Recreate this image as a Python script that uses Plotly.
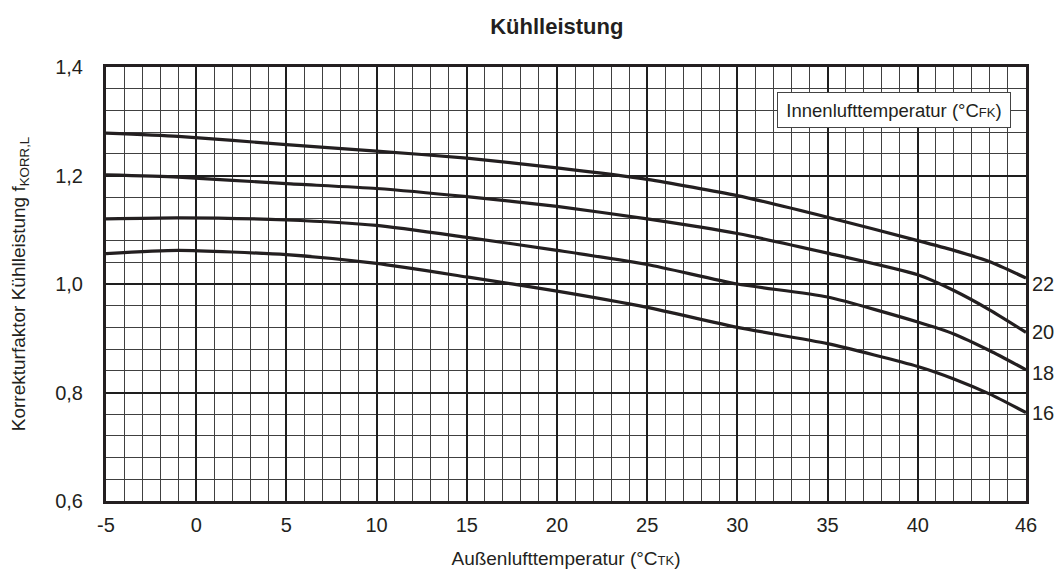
import plotly.graph_objects as go

# Outdoor air temperature (°C dry bulb) sample points
aussen_temp = [-5, -1, 5, 10, 15, 20, 25, 30, 35, 40, 42, 44, 46]

# Cooling capacity correction factor per indoor air temperature (°C wet bulb)
faktor_22 = [1.278, 1.272, 1.257, 1.245, 1.232, 1.214, 1.193, 1.163, 1.123, 1.080, 1.062, 1.041, 1.011]
faktor_20 = [1.201, 1.197, 1.185, 1.176, 1.161, 1.143, 1.120, 1.093, 1.057, 1.017, 0.988, 0.952, 0.911]
faktor_18 = [1.120, 1.122, 1.118, 1.108, 1.086, 1.062, 1.036, 1.000, 0.976, 0.930, 0.908, 0.877, 0.842]
faktor_16 = [1.056, 1.062, 1.054, 1.038, 1.013, 0.987, 0.957, 0.920, 0.890, 0.848, 0.825, 0.797, 0.763]

kurven = {"22": faktor_22, "20": faktor_20, "18": faktor_18, "16": faktor_16}

x_tickvals = [-5, 0, 5, 10, 15, 20, 25, 30, 35, 40, 46]
x_ticktext = ["-5", "0", "5", "10", "15", "20", "25", "30", "35", "40", "46"]
y_tickvals = [0.6, 0.8, 1.0, 1.2, 1.4]
y_ticktext = ["0,6", "0,8", "1,0", "1,2", "1,4"]

FONT = "Liberation Sans, Arial, sans-serif"
INK = "#231f20"

fig = go.Figure()

label_shift = {"22": -6, "20": 0, "18": -3, "16": 0}

for name, werte in kurven.items():
    fig.add_trace(go.Scatter(
        x=aussen_temp, y=werte, mode="lines", name=name,
        line=dict(color=INK, width=3.2, shape="spline", smoothing=0.6),
        showlegend=False, hoverinfo="skip",
    ))
    fig.add_annotation(
        x=aussen_temp[-1], y=werte[-1], xref="x", yref="y",
        text=name, showarrow=False, xanchor="left", yanchor="middle",
        xshift=4, yshift=label_shift[name],
        font=dict(family=FONT, size=20, color=INK),
    )

# Box naming the curve parameter
fig.add_annotation(
    x=38.7, y=1.32, xref="x", yref="y",
    text="Innenlufttemperatur (°C<span style='font-size:13px'>FK</span>)",
    showarrow=False, xanchor="center", yanchor="middle",
    bgcolor="white", bordercolor="#444444", borderwidth=1, borderpad=4,
    width=224, height=26,
    font=dict(family=FONT, size=18.5, color=INK),
)

fig.update_layout(
    width=1061, height=574,
    margin=dict(l=106, r=35, t=67, b=73),
    paper_bgcolor="white", plot_bgcolor="white",
    font=dict(family=FONT, size=20, color=INK),
    title=dict(
        text="<b>Kühlleistung</b>",
        font=dict(family=FONT, size=22, color=INK),
        x=0.49, xref="paper", xanchor="center", y=0.955, yanchor="middle",
    ),
    xaxis=dict(
        range=[-5, 46], tickmode="array", tickvals=x_tickvals, ticktext=x_ticktext,
        showgrid=True, gridcolor="#1e1e1e", gridwidth=1.6,
        showline=True, linecolor=INK, linewidth=3, mirror=True,
        ticks="", ticklabelstandoff=4, zeroline=False, automargin=False,
        tickfont=dict(size=20),
        minor=dict(dtick=1, tick0=-5, showgrid=True, gridcolor="#404040", gridwidth=1),
        title=dict(text="Außenlufttemperatur (°C<span style='font-size:13px'>TK</span>)",
                   standoff=17, font=dict(size=19)),
    ),
    yaxis=dict(
        range=[0.6, 1.4], tickmode="array", tickvals=y_tickvals, ticktext=y_ticktext,
        showgrid=True, gridcolor="#1e1e1e", gridwidth=1.6,
        showline=True, linecolor=INK, linewidth=3, mirror=True,
        ticks="", ticklabelstandoff=16, zeroline=False, automargin=False,
        tickfont=dict(size=20),
        minor=dict(dtick=0.04, tick0=0.6, showgrid=True, gridcolor="#404040", gridwidth=1),
        title=dict(text="Korrekturfaktor Kühlleistung f<sub>KORR,L</sub>",
                   standoff=25, font=dict(size=19)),
    ),
)

fig.write_html("out.html")
